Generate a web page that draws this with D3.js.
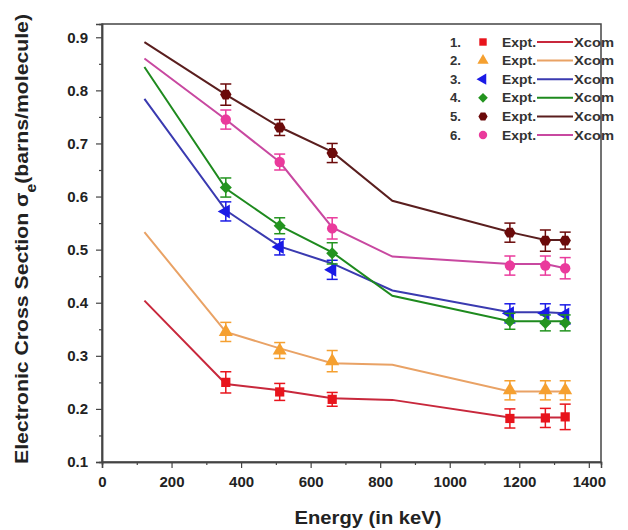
<!DOCTYPE html>
<html><head><meta charset="utf-8">
<script src="https://cdn.jsdelivr.net/npm/d3@7"></script>
<style>body{margin:0;background:#fff}svg{display:block}text{font-family:"Liberation Sans",Arial,sans-serif;font-weight:bold}</style>
</head><body>
<script>
const xcomEnergies = [122, 356, 511, 662, 835, 1173, 1275, 1332];
const exptEnergies = [356, 511, 662, 1173, 1275, 1332];
const seriesNames = ["1.", "2.", "3.", "4.", "5.", "6."];
const xcom1 = [0.404, 0.247, 0.235, 0.220, 0.217, 0.184, 0.184, 0.184];
const xcom2 = [0.533, 0.345, 0.314, 0.286, 0.283, 0.233, 0.233, 0.233];
const xcom3 = [0.784, 0.574, 0.506, 0.474, 0.423, 0.382, 0.382, 0.380];
const xcom4 = [0.844, 0.615, 0.545, 0.495, 0.413, 0.365, 0.365, 0.365];
const xcom5 = [0.891, 0.792, 0.731, 0.684, 0.592, 0.533, 0.518, 0.518];
const xcom6 = [0.860, 0.745, 0.665, 0.542, 0.487, 0.473, 0.473, 0.465];
const expt1 = [0.250, 0.232, 0.218, 0.182, 0.183, 0.185];
const expt2 = [0.345, 0.310, 0.290, 0.235, 0.235, 0.235];
const expt3 = [0.572, 0.505, 0.462, 0.380, 0.380, 0.378];
const expt4 = [0.617, 0.545, 0.493, 0.365, 0.362, 0.362];
const expt5 = [0.792, 0.730, 0.682, 0.532, 0.517, 0.517];
const expt6 = [0.745, 0.665, 0.540, 0.470, 0.470, 0.465];
const err1 = [0.020, 0.016, 0.013, 0.018, 0.018, 0.024];
const err2 = [0.018, 0.015, 0.020, 0.018, 0.018, 0.018];
const err3 = [0.018, 0.015, 0.018, 0.018, 0.018, 0.018];
const err4 = [0.018, 0.015, 0.020, 0.015, 0.015, 0.015];
const err5 = [0.020, 0.015, 0.018, 0.018, 0.020, 0.016];
const err6 = [0.018, 0.015, 0.020, 0.018, 0.018, 0.020];
const xTicks = [0, 200, 400, 600, 800, 1000, 1200, 1400];
const yTicks = [0.1, 0.2, 0.3, 0.4, 0.5, 0.6, 0.7, 0.8, 0.9];

const markerColors = ["#e8141c", "#f5a030", "#1a1ae6", "#23941f", "#6b0a0a", "#ea3a9c"];
const lineColors = ["#c8283c", "#e9a265", "#3a3ab0", "#1e8a1e", "#5a1e1e", "#c848a0"];
const shapes = ["square", "triangle", "left", "diamond", "hex", "circle"];
const xcoms = [xcom1, xcom2, xcom3, xcom4, xcom5, xcom6];
const expts = [expt1, expt2, expt3, expt4, expt5, expt6];
const errs = [err1, err2, err3, err4, err5, err6];

const W = 628, H = 530;
const m = {l: 102, r: 27, t: 24, b: 68};
const svg = d3.select("body").append("svg").attr("width", W).attr("height", H);
const x = d3.scaleLinear().domain([0, 1435]).range([m.l, W - m.r]);
const y = d3.scaleLinear().domain([0.1, 0.925]).range([H - m.b, m.t]);

svg.append("rect").attr("x", m.l).attr("y", m.t).attr("width", W - m.r - m.l).attr("height", H - m.b - m.t)
  .attr("fill", "none").attr("stroke", "#444").attr("stroke-width", 1.5);

const xMinor = d3.range(100, 1435, 200);
const yMinor = d3.range(0.15, 0.92, 0.1);
const gx = svg.append("g").attr("transform", `translate(0,${H - m.b})`);
gx.call(d3.axisBottom(x).tickValues(xTicks).tickFormat(d3.format("d")).tickSize(6).tickPadding(8));
gx.append("g").call(d3.axisBottom(x).tickValues(xMinor).tickFormat("").tickSize(3));
const gy = svg.append("g").attr("transform", `translate(${m.l},0)`);
gy.call(d3.axisLeft(y).tickValues(yTicks).tickFormat(d3.format(".1f")).tickSize(6).tickPadding(8));
gy.append("g").call(d3.axisLeft(y).tickValues(yMinor).tickFormat("").tickSize(3));
svg.selectAll(".domain").attr("stroke", "#444").attr("stroke-width", 1.5);
svg.selectAll(".tick line").attr("stroke", "#444").attr("stroke-width", 1.2);
svg.selectAll(".tick text").attr("font-size", 15).attr("fill", "#222")
  .attr("font-family", '"Liberation Sans",Arial,sans-serif').attr("font-weight", "bold");

svg.append("text").attr("x", 368).attr("y", 524).attr("text-anchor", "middle")
  .attr("font-size", 19).attr("fill", "#222").attr("textLength", 147).attr("lengthAdjust", "spacingAndGlyphs")
  .text("Energy (in keV)");
const yl = svg.append("text").attr("transform", `translate(28,239) rotate(-90)`)
  .attr("text-anchor", "middle").attr("font-size", 19).attr("fill", "#222")
  .attr("textLength", 450).attr("lengthAdjust", "spacingAndGlyphs");
yl.append("tspan").text("Electronic Cross Section σ");
yl.append("tspan").attr("baseline-shift", "sub").attr("font-size", 14).text("e");
yl.append("tspan").text("(barns/molecule)");

function symPath(s, size) {
  if (s === "square") return d3.symbol().type(d3.symbolSquare).size(size)();
  if (s === "triangle" || s === "left") return d3.symbol().type(d3.symbolTriangle).size(size)();
  if (s === "diamond") return d3.symbol().type(d3.symbolSquare).size(size * 0.85)();
  if (s === "circle") return d3.symbol().type(d3.symbolCircle).size(size)();
  const r = Math.sqrt(size / 2.6);
  return d3.line()(d3.range(6).map(i => [r * Math.cos(Math.PI / 3 * i), r * Math.sin(Math.PI / 3 * i)])) + "Z";
}
function symRot(s) { return s === "left" ? " rotate(-90)" : s === "diamond" ? " rotate(45)" : ""; }

const line = d3.line().x((d, i) => x(xcomEnergies[i])).y(d => y(d));
xcoms.forEach((vals, k) => {
  svg.append("path").datum(vals).attr("d", line).attr("fill", "none")
    .attr("stroke", lineColors[k]).attr("stroke-width", 2);
});
expts.forEach((vals, k) => {
  const g = svg.append("g");
  const c = markerColors[k];
  vals.forEach((v, i) => {
    const cx = x(exptEnergies[i]), e = errs[k][i];
    g.append("line").attr("x1", cx).attr("x2", cx).attr("y1", y(v + e)).attr("y2", y(v - e)).attr("stroke", c).attr("stroke-width", 1.5);
    [v + e, v - e].forEach(t => g.append("line").attr("x1", cx - 5.5).attr("x2", cx + 5.5).attr("y1", y(t)).attr("y2", y(t)).attr("stroke", c).attr("stroke-width", 1.5));
    g.append("path").attr("d", symPath(shapes[k], 85)).attr("transform", `translate(${cx},${y(v)})${symRot(shapes[k])}`).attr("fill", c);
  });
});

const lg = svg.append("g");
seriesNames.forEach((n, k) => {
  const ly = 42 + k * 18.6;
  lg.append("text").attr("x", 450).attr("y", ly + 4.5).attr("font-size", 12).attr("fill", "#333")
    .attr("textLength", 11).attr("lengthAdjust", "spacingAndGlyphs").text(n);
  lg.append("path").attr("d", symPath(shapes[k], 55)).attr("transform", `translate(483,${ly})${symRot(shapes[k])}`).attr("fill", markerColors[k]);
  lg.append("text").attr("x", 502).attr("y", ly + 4.5).attr("font-size", 12).attr("fill", "#333")
    .attr("textLength", 34).attr("lengthAdjust", "spacingAndGlyphs").text("Expt.");
  lg.append("line").attr("x1", 537).attr("x2", 573).attr("y1", ly).attr("y2", ly).attr("stroke", lineColors[k]).attr("stroke-width", 2);
  lg.append("text").attr("x", 574).attr("y", ly + 4.5).attr("font-size", 12).attr("fill", "#333")
    .attr("textLength", 40).attr("lengthAdjust", "spacingAndGlyphs").text("Xcom");
});
</script>
</body></html>
